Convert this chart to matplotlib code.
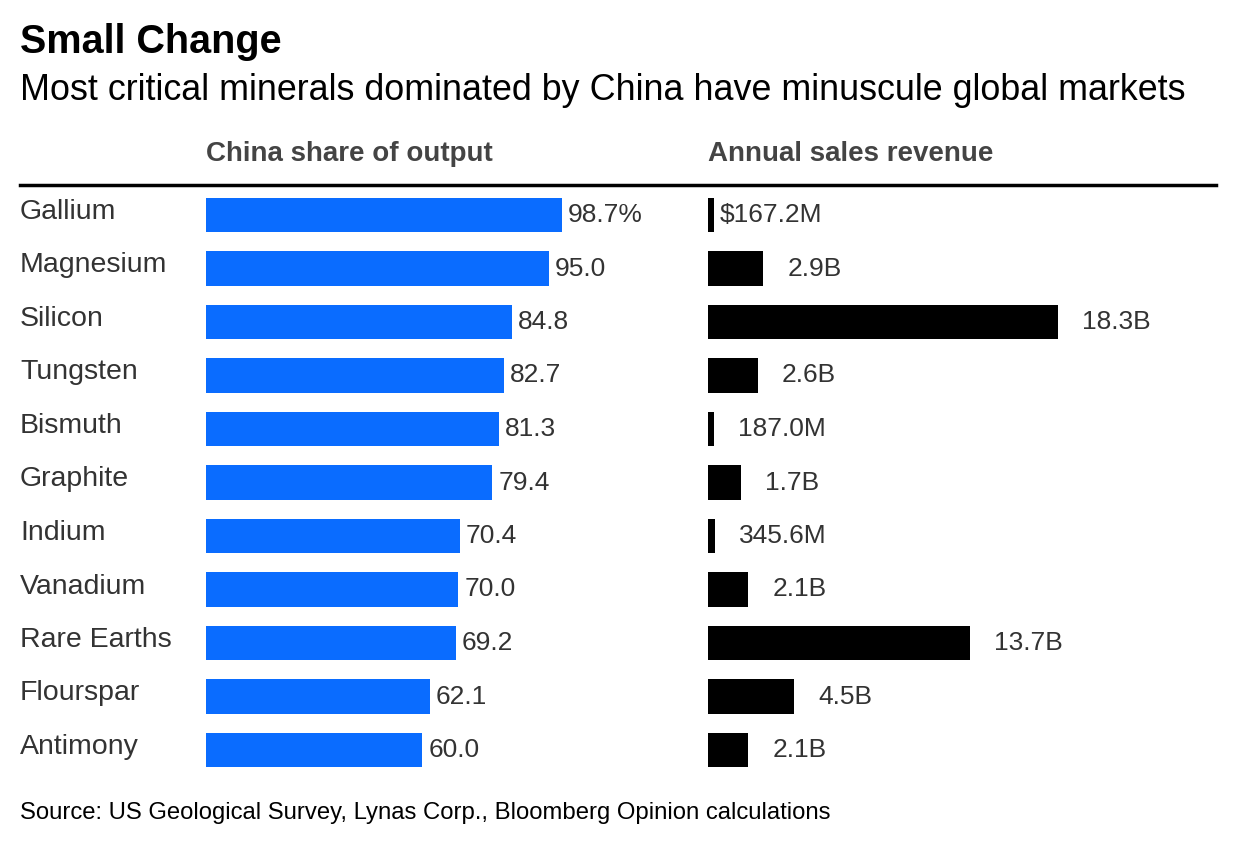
import matplotlib.pyplot as plt
from matplotlib.lines import Line2D

plt.rcParams['font.family'] = ['Liberation Sans', 'DejaVu Sans']

minerals = ["Gallium", "Magnesium", "Silicon", "Tungsten", "Bismuth", "Graphite",
            "Indium", "Vanadium", "Rare Earths", "Flourspar", "Antimony"]
china_share = [98.7, 95.0, 84.8, 82.7, 81.3, 79.4, 70.4, 70.0, 69.2, 62.1, 60.0]
share_labels = ["98.7%", "95.0", "84.8", "82.7", "81.3", "79.4", "70.4", "70.0", "69.2", "62.1", "60.0"]
revenue_b = [0.1672, 2.9, 18.3, 2.6, 0.187, 1.7, 0.3456, 2.1, 13.7, 4.5, 2.1]
revenue_labels = ["$167.2M", "2.9B", "18.3B", "2.6B", "187.0M", "1.7B", "345.6M", "2.1B", "13.7B", "4.5B", "2.1B"]

W, H = 1236, 848
fig = plt.figure(figsize=(W / 100, H / 100), dpi=100)

def px_axes(x0, x1, ytop, ybot):
    return fig.add_axes([x0 / W, 1 - ybot / H, (x1 - x0) / W, (ybot - ytop) / H])

n = len(minerals)
row = 53.5
ytop = 215 - row / 2
ybot = ytop + row * n

ax1 = px_axes(206, 562, ytop, ybot)
ax2 = px_axes(708, 1058, ytop, ybot)
for ax in (ax1, ax2):
    ax.set_ylim(n - 0.5, -0.5)
    ax.axis("off")
ax1.set_xlim(0, max(china_share))
ax2.set_xlim(0, max(revenue_b))

ys = range(n)
ax1.barh(ys, china_share, height=0.64, color="#0a6cff")
ax2.barh(ys, [max(v, 0.32) for v in revenue_b], height=0.64, color="black")

for i in ys:
    ax1.annotate(share_labels[i], (china_share[i], i), xytext=(6, 0), textcoords="offset pixels",
                 va="center", ha="left", fontsize=19, color="#333333", annotation_clip=False)
    off = 6 if i == 0 else 24
    ax2.annotate(revenue_labels[i], (max(revenue_b[i], 0.32), i), xytext=(off, 0), textcoords="offset pixels",
                 va="center", ha="left", fontsize=19, color="#333333", annotation_clip=False)
    fig.text(20 / W, 1 - (212 + i * row) / H, minerals[i], fontsize=20.5, color="#333333",
             va="center", ha="left")

fig.text(20 / W, 1 - 42 / H, "Small Change", fontsize=28.5, fontweight="bold", va="center")
fig.text(20 / W, 1 - 90 / H, "Most critical minerals dominated by China have minuscule global markets",
         fontsize=25.8, va="center")
fig.text(206 / W, 1 - 154 / H, "China share of output", fontsize=20, fontweight="bold",
         color="#444444", va="center")
fig.text(708 / W, 1 - 154 / H, "Annual sales revenue", fontsize=20, fontweight="bold",
         color="#444444", va="center")
fig.add_artist(Line2D([20 / W, 1216 / W], [1 - 185 / H, 1 - 185 / H], color="black", lw=2.5))
fig.text(20 / W, 1 - 813 / H, "Source: US Geological Survey, Lynas Corp., Bloomberg Opinion calculations",
         fontsize=17.2, va="center")

fig.savefig("out.png", dpi=100)
